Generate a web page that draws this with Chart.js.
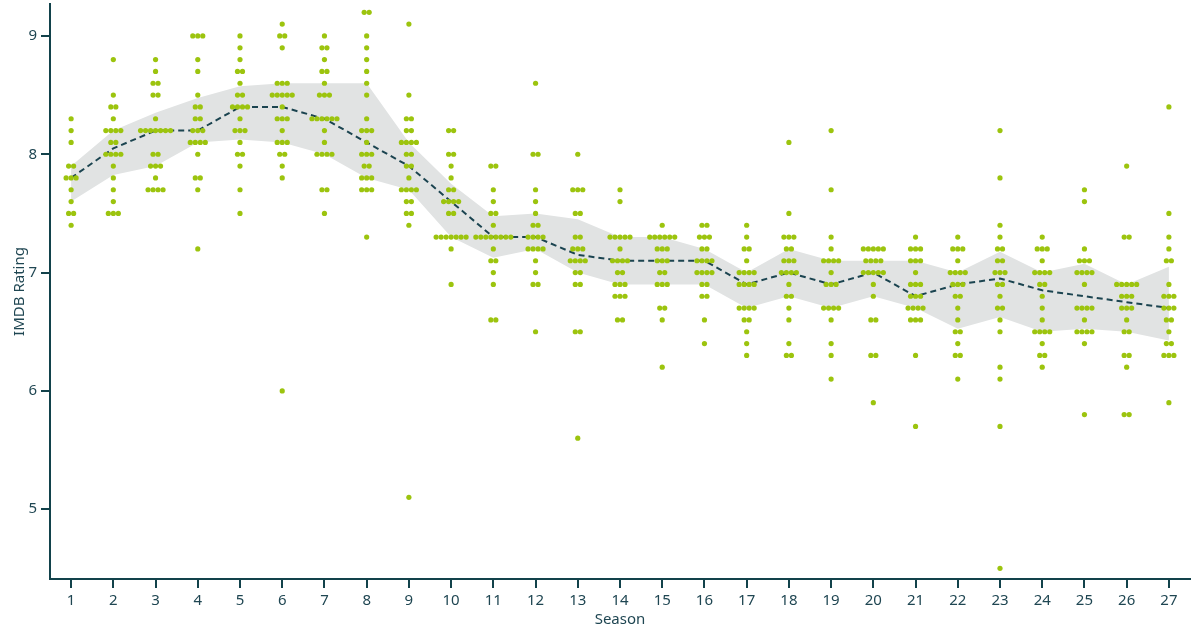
<!DOCTYPE html>
<html>
<head>
<meta charset="utf-8">
<script src="https://cdn.jsdelivr.net/npm/chart.js@4.4.1/dist/chart.umd.min.js"></script>
<style>
  html, body { margin: 0; padding: 0; background: #fff; }
</style>
</head>
<body>
<canvas id="chart" width="1200" height="630"></canvas>
<script>
const seasons = [1, 2, 3, 4, 5, 6, 7, 8, 9, 10, 11, 12, 13, 14, 15, 16, 17, 18, 19, 20, 21, 22, 23, 24, 25, 26, 27];
const yTicks = [5, 6, 7, 8, 9];

// episode ratings per season
const season1 = [8.3, 8.2, 8.1, 7.9, 7.9, 7.8, 7.8, 7.8, 7.7, 7.6, 7.5, 7.5, 7.4];
const season2 = [8.8, 8.5, 8.4, 8.4, 8.3, 8.2, 8.2, 8.2, 8.2, 8.1, 8.1, 8.0, 8.0, 8.0, 8.0, 7.9, 7.8, 7.7, 7.6, 7.5, 7.5, 7.5];
const season3 = [8.8, 8.7, 8.6, 8.6, 8.5, 8.5, 8.3, 8.2, 8.2, 8.2, 8.2, 8.2, 8.2, 8.2, 8.0, 8.0, 7.9, 7.9, 7.9, 7.8, 7.7, 7.7, 7.7, 7.7];
const season4 = [9.0, 9.0, 9.0, 8.8, 8.7, 8.5, 8.4, 8.4, 8.3, 8.3, 8.2, 8.2, 8.2, 8.1, 8.1, 8.1, 8.1, 8.0, 7.8, 7.8, 7.7, 7.2];
const season5 = [9.0, 8.9, 8.8, 8.7, 8.7, 8.6, 8.5, 8.5, 8.4, 8.4, 8.4, 8.4, 8.3, 8.2, 8.2, 8.2, 8.1, 8.0, 8.0, 7.9, 7.7, 7.5];
const season6 = [9.1, 9.0, 9.0, 8.9, 8.6, 8.6, 8.6, 8.5, 8.5, 8.5, 8.5, 8.5, 8.4, 8.3, 8.3, 8.3, 8.2, 8.1, 8.1, 8.1, 8.0, 8.0, 7.9, 7.8, 6.0];
const season7 = [9.0, 8.9, 8.9, 8.8, 8.7, 8.7, 8.6, 8.5, 8.5, 8.5, 8.3, 8.3, 8.3, 8.3, 8.3, 8.3, 8.2, 8.1, 8.0, 8.0, 8.0, 8.0, 7.7, 7.7, 7.5];
const season8 = [9.2, 9.2, 9.0, 8.9, 8.8, 8.7, 8.6, 8.5, 8.3, 8.2, 8.2, 8.2, 8.1, 8.0, 8.0, 8.0, 7.9, 7.9, 7.8, 7.8, 7.8, 7.7, 7.7, 7.7, 7.3];
const season9 = [9.1, 8.5, 8.3, 8.3, 8.2, 8.2, 8.1, 8.1, 8.1, 8.1, 8.0, 8.0, 7.9, 7.9, 7.8, 7.7, 7.7, 7.7, 7.7, 7.6, 7.6, 7.5, 7.5, 7.4, 5.1];
const season10 = [8.2, 8.2, 8.0, 8.0, 7.9, 7.8, 7.7, 7.7, 7.6, 7.6, 7.6, 7.6, 7.5, 7.5, 7.3, 7.3, 7.3, 7.3, 7.3, 7.3, 7.3, 7.2, 6.9];
const season11 = [7.9, 7.9, 7.7, 7.6, 7.5, 7.5, 7.4, 7.3, 7.3, 7.3, 7.3, 7.3, 7.3, 7.3, 7.3, 7.2, 7.1, 7.1, 7.0, 6.9, 6.6, 6.6];
const season12 = [8.6, 8.0, 8.0, 7.7, 7.6, 7.5, 7.4, 7.4, 7.3, 7.3, 7.3, 7.3, 7.2, 7.2, 7.2, 7.2, 7.1, 7.0, 6.9, 6.9, 6.5];
const season13 = [8.0, 7.7, 7.7, 7.7, 7.5, 7.5, 7.3, 7.3, 7.2, 7.2, 7.2, 7.1, 7.1, 7.1, 7.1, 7.0, 7.0, 6.9, 6.9, 6.5, 6.5, 5.6];
const season14 = [7.7, 7.6, 7.3, 7.3, 7.3, 7.3, 7.3, 7.2, 7.1, 7.1, 7.1, 7.1, 7.0, 7.0, 6.9, 6.9, 6.9, 6.8, 6.8, 6.8, 6.6, 6.6];
const season15 = [7.4, 7.3, 7.3, 7.3, 7.3, 7.3, 7.3, 7.2, 7.2, 7.2, 7.1, 7.1, 7.1, 7.0, 7.0, 6.9, 6.9, 6.9, 6.7, 6.7, 6.6, 6.2];
const season16 = [7.4, 7.4, 7.3, 7.3, 7.3, 7.2, 7.2, 7.1, 7.1, 7.1, 7.1, 7.0, 7.0, 7.0, 7.0, 6.9, 6.9, 6.8, 6.8, 6.6, 6.4];
const season17 = [7.4, 7.3, 7.2, 7.2, 7.1, 7.0, 7.0, 7.0, 7.0, 6.9, 6.9, 6.9, 6.9, 6.7, 6.7, 6.7, 6.7, 6.6, 6.6, 6.5, 6.4, 6.3];
const season18 = [8.1, 7.5, 7.3, 7.3, 7.3, 7.2, 7.2, 7.1, 7.1, 7.1, 7.0, 7.0, 7.0, 7.0, 6.9, 6.8, 6.8, 6.7, 6.6, 6.4, 6.3, 6.3];
const season19 = [8.2, 7.7, 7.3, 7.2, 7.1, 7.1, 7.1, 7.1, 7.0, 6.9, 6.9, 6.9, 6.7, 6.7, 6.7, 6.7, 6.6, 6.4, 6.3, 6.1];
const season20 = [7.2, 7.2, 7.2, 7.2, 7.2, 7.1, 7.1, 7.1, 7.1, 7.0, 7.0, 7.0, 7.0, 7.0, 6.9, 6.8, 6.6, 6.6, 6.3, 6.3, 5.9];
const season21 = [7.3, 7.2, 7.2, 7.2, 7.1, 7.1, 7.1, 7.0, 6.9, 6.9, 6.9, 6.8, 6.8, 6.8, 6.7, 6.7, 6.7, 6.7, 6.6, 6.6, 6.6, 6.3, 5.7];
const season22 = [7.3, 7.2, 7.2, 7.2, 7.1, 7.0, 7.0, 7.0, 7.0, 6.9, 6.9, 6.9, 6.8, 6.8, 6.7, 6.6, 6.5, 6.5, 6.4, 6.3, 6.3, 6.1];
const season23 = [8.2, 7.8, 7.4, 7.3, 7.2, 7.2, 7.1, 7.1, 7.0, 7.0, 7.0, 6.9, 6.9, 6.8, 6.7, 6.7, 6.6, 6.5, 6.2, 6.1, 5.7, 4.5];
const season24 = [7.3, 7.2, 7.2, 7.2, 7.1, 7.0, 7.0, 7.0, 7.0, 6.9, 6.9, 6.8, 6.7, 6.6, 6.5, 6.5, 6.5, 6.5, 6.4, 6.3, 6.3, 6.2];
const season25 = [7.7, 7.6, 7.2, 7.1, 7.1, 7.1, 7.0, 7.0, 7.0, 7.0, 6.9, 6.7, 6.7, 6.7, 6.7, 6.6, 6.5, 6.5, 6.5, 6.5, 6.4, 5.8];
const season26 = [7.9, 7.3, 7.3, 6.9, 6.9, 6.9, 6.9, 6.9, 6.8, 6.8, 6.8, 6.7, 6.7, 6.7, 6.6, 6.5, 6.5, 6.3, 6.3, 6.2, 5.8, 5.8];
const season27 = [8.4, 7.5, 7.3, 7.2, 7.1, 7.1, 6.9, 6.8, 6.8, 6.8, 6.7, 6.7, 6.7, 6.6, 6.6, 6.5, 6.4, 6.4, 6.3, 6.3, 6.3, 5.9];

const allSeasons = [season1, season2, season3, season4, season5, season6, season7, season8, season9,
  season10, season11, season12, season13, season14, season15, season16, season17, season18,
  season19, season20, season21, season22, season23, season24, season25, season26, season27];

const axisColor = "#12424b";
const textColor = "#1f4652";
const dotColor = "#9cc40e";
const bandColor = "#e1e3e3";
const lineColor = "#1b4450";

// dots in the same row sit 5px apart
const dotGap = 5 / (1140 / 27);

function swarm(season, ratings) {
  const counts = {};
  ratings.forEach((r) => {
    const k = r.toFixed(1);
    counts[k] = (counts[k] || 0) + 1;
  });
  const pts = [];
  Object.keys(counts).forEach((k) => {
    const n = counts[k];
    for (let j = 0; j < n; j++) {
      pts.push({ x: season + (j - (n - 1) / 2) * dotGap, y: Number(k) });
    }
  });
  return pts;
}

function quantile(values, p) {
  const s = [...values].sort((a, b) => a - b);
  const pos = (s.length - 1) * p;
  const lo = Math.floor(pos);
  const hi = Math.ceil(pos);
  return s[lo] + (s[hi] - s[lo]) * (pos - lo);
}

const points = [];
seasons.forEach((s, i) => points.push(...swarm(s, allSeasons[i])));

const medians = seasons.map((s, i) => ({ x: s, y: quantile(allSeasons[i], 0.5) }));
const lowerQ = seasons.map((s, i) => ({ x: s, y: quantile(allSeasons[i], 0.25) }));
const upperQ = seasons.map((s, i) => ({ x: s, y: quantile(allSeasons[i], 0.75) }));

const font = { family: "'Noto Sans', sans-serif", size: 15 };

new Chart(document.getElementById("chart"), {
  type: "scatter",
  data: {
    datasets: [
      {
        data: points,
        pointRadius: 2.6,
        pointBorderWidth: 0,
        backgroundColor: dotColor,
      },
      {
        data: medians,
        showLine: true,
        borderColor: lineColor,
        borderWidth: 2,
        borderDash: [6, 4],
        pointRadius: 0,
        fill: false,
      },
      {
        data: upperQ,
        showLine: true,
        borderWidth: 0,
        pointRadius: 0,
        backgroundColor: bandColor,
        fill: "+1",
      },
      {
        data: lowerQ,
        showLine: true,
        borderWidth: 0,
        pointRadius: 0,
        fill: false,
      },
    ],
  },
  options: {
    responsive: false,
    animation: false,
    layout: { padding: { left: 0, right: 10, top: 0, bottom: 0 } },
    plugins: {
      legend: { display: false },
      tooltip: { enabled: false },
    },
    scales: {
      x: {
        type: "linear",
        min: 0.5,
        max: 27.5,
        afterBuildTicks: (scale) => {
          scale.ticks = seasons.map((v) => ({ value: v }));
        },
        afterFit: (scale) => {
          scale.height = 51;
          scale.paddingLeft = 0;
          scale.paddingRight = 0;
        },
        grid: { drawOnChartArea: false, drawTicks: true, tickLength: 9, color: axisColor, lineWidth: 2 },
        border: { display: true, color: axisColor, width: 2 },
        ticks: { color: textColor, font: font, padding: 4, maxRotation: 0, autoSkip: false },
        title: { display: true, text: "Season", color: textColor, font: font, padding: { top: 0, bottom: 1 } },
      },
      y: {
        type: "linear",
        min: 4.41,
        max: 9.27,
        afterBuildTicks: (scale) => {
          scale.ticks = yTicks.map((v) => ({ value: v }));
        },
        afterFit: (scale) => {
          scale.width = 50;
          scale.paddingTop = 0;
          scale.paddingBottom = 0;
        },
        grid: { drawOnChartArea: false, drawTicks: true, tickLength: 9, color: axisColor, lineWidth: 2 },
        border: { display: true, color: axisColor, width: 2 },
        ticks: { color: textColor, font: font, padding: 4 },
        title: { display: true, text: "IMDB Rating", color: textColor, font: font, padding: { top: 11, bottom: 0 } },
      },
    },
  },
});
</script>
</body>
</html>
